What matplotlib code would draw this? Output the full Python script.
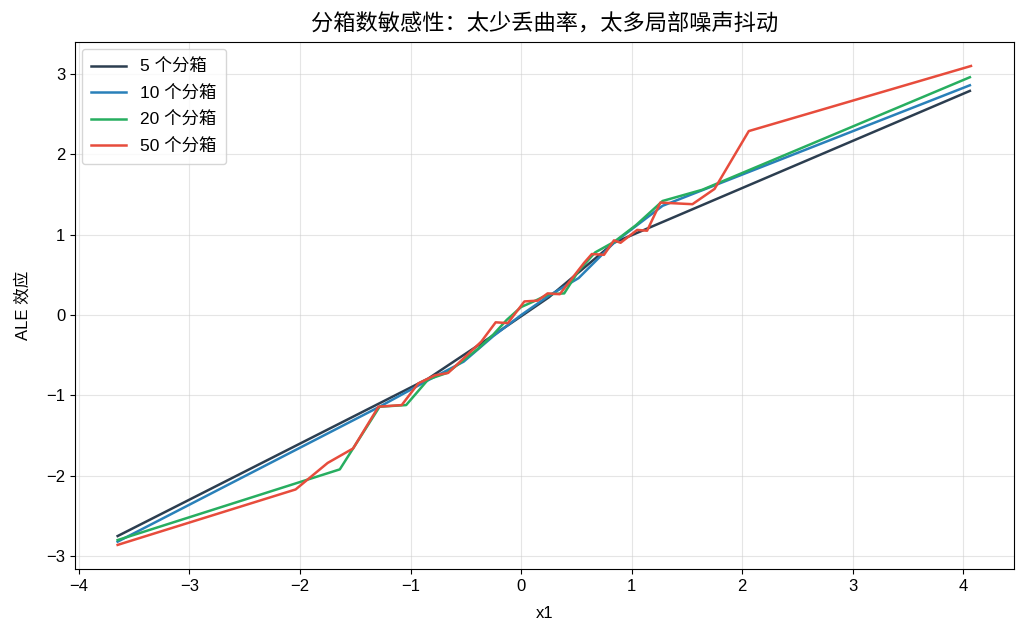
import matplotlib
matplotlib.use("Agg")
import matplotlib.pyplot as plt

plt.rcParams['font.family'] = ['Liberation Sans', 'Noto Sans CJK SC', 'DejaVu Sans']
plt.rcParams['axes.unicode_minus'] = True

# 5 bins
x5 = [-3.65, -0.84, -0.25, 0.25, 0.84, 4.06]
y5 = [-2.75, -0.79, -0.25, 0.22, 0.90, 2.79]

# 10 bins
x10 = [-3.65, -1.28, -0.84, -0.52, -0.25, 0.00, 0.25, 0.52, 0.84, 1.28, 4.06]
y10 = [-2.82, -1.14, -0.81, -0.58, -0.26, 0.00, 0.24, 0.46, 0.90, 1.36, 2.86]

# 20 bins
x20 = [-3.65, -1.64, -1.28, -1.04, -0.84, -0.67, -0.52, -0.39, -0.25, -0.13,
       0.00, 0.13, 0.25, 0.39, 0.52, 0.67, 0.84, 1.04, 1.28, 1.64, 4.06]
y20 = [-2.80, -1.92, -1.14, -1.12, -0.80, -0.72, -0.56, -0.42, -0.24, -0.06,
       0.10, 0.18, 0.26, 0.27, 0.55, 0.78, 0.91, 1.12, 1.42, 1.56, 2.96]

# 50 bins
x50 = [-3.65, -2.04, -1.75, -1.52, -1.29, -1.08, -0.93, -0.78, -0.66, -0.36,
       -0.23, -0.12, 0.03, 0.15, 0.24, 0.35, 0.57, 0.64, 0.75, 0.84,
       0.90, 1.05, 1.14, 1.26, 1.55, 1.75, 2.06, 4.07]
y50 = [-2.86, -2.17, -1.84, -1.66, -1.14, -1.12, -0.85, -0.75, -0.72, -0.33,
       -0.09, -0.10, 0.17, 0.18, 0.27, 0.26, 0.65, 0.76, 0.75, 0.93,
       0.90, 1.06, 1.05, 1.40, 1.38, 1.57, 2.29, 3.10]

series = [
    (x5, y5, "5 个分箱", "#2c3e50"),
    (x10, y10, "10 个分箱", "#2980b9"),
    (x20, y20, "20 个分箱", "#27ae60"),
    (x50, y50, "50 个分箱", "#e74c3c"),
]

fig = plt.figure(figsize=(10.27, 6.37), dpi=100)
ax = fig.add_axes([0.073, 0.107, 0.914, 0.827])
for xs, ys, lab, col in series:
    ax.plot(xs, ys, color=col, lw=1.8, label=lab)

ax.grid(True, color="#cccccc", alpha=0.5, linewidth=0.8)
ax.set_axisbelow(True)
ax.set_xlabel("x1", fontsize=12, labelpad=9)
ax.set_ylabel("ALE 效应", fontsize=12, labelpad=11)
ax.set_title("分箱数敏感性：太少丢曲率，太多局部噪声抖动", fontsize=16, pad=8)
ax.tick_params(labelsize=12)
ax.legend(loc="upper left", fontsize=12.5, labelspacing=0.6, borderpad=0.55,
          borderaxespad=0.4)

fig.savefig("out.png", dpi=100)
